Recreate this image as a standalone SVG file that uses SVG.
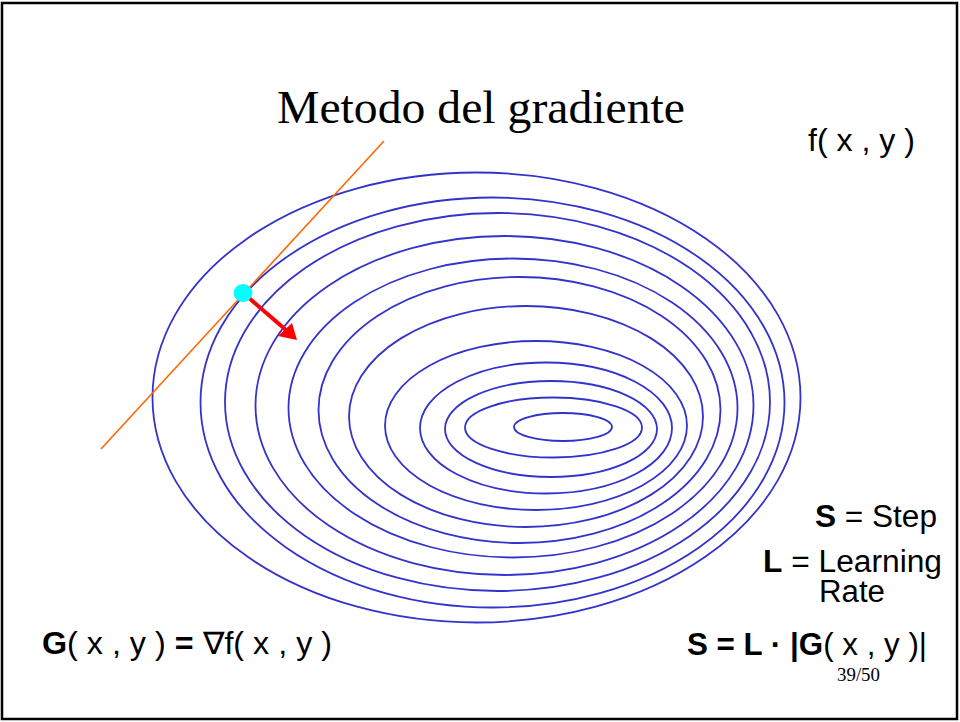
<svg xmlns="http://www.w3.org/2000/svg" width="960" height="722" viewBox="0 0 960 722">
<style>
.c{fill:none;stroke:#3333CC;stroke-width:1.8}
.t{font-family:"Liberation Sans",Arial,sans-serif;font-size:31px;fill:#000}
.b{font-weight:bold}
.s{font-family:"Liberation Serif","Times New Roman",serif;fill:#000}
</style>
<rect x="2" y="3" width="955" height="716" fill="#fff" stroke="#000" stroke-width="2.5"/>
<g id="contours">
<ellipse class="c" cx="563" cy="427" rx="49" ry="14"/>
<ellipse class="c" cx="553.5" cy="427.5" rx="88.5" ry="30"/>
<ellipse class="c" cx="551" cy="429" rx="106" ry="48"/>
<ellipse class="c" cx="546" cy="428" rx="126" ry="65.5"/>
<ellipse class="c" cx="536" cy="425.5" rx="151" ry="84.5"/>
<ellipse class="c" cx="526" cy="416.5" rx="177" ry="110.5"/>
<ellipse class="c" cx="519.5" cy="410" rx="201" ry="133"/>
<ellipse class="c" cx="513" cy="408" rx="224.5" ry="149.5"/>
<ellipse class="c" cx="504.5" cy="405.5" rx="249" ry="169.5"/>
<ellipse class="c" cx="497.5" cy="402" rx="272.5" ry="189"/>
<ellipse class="c" cx="492.5" cy="402.5" rx="292" ry="205"/>
<ellipse class="c" cx="476.5" cy="397.5" rx="324" ry="225"/>
</g>
<g id="connectors">
<line id="tangent" x1="384" y1="141" x2="101" y2="449" stroke="#FF6600" stroke-width="1.6"/>
<g id="gradient-arrow">
<line x1="249" y1="298" x2="286" y2="330" stroke="#FF0000" stroke-width="4"/>
<polygon points="297,340 278,336 292,323" fill="#FF0000"/>
</g>
</g>
<g id="point"><ellipse cx="243" cy="293" rx="9.5" ry="9" fill="#00FFFF"/></g>
<g id="title"><text class="s" x="277" y="123" font-size="47" textLength="408" lengthAdjust="spacingAndGlyphs">Metodo del gradiente</text></g>
<g id="fxy"><text class="t" x="808" y="151" textLength="107" lengthAdjust="spacingAndGlyphs">f( x , y )</text></g>
<g id="step"><text class="t" x="815" y="527" textLength="122" lengthAdjust="spacingAndGlyphs"><tspan class="b">S</tspan> = Step</text></g>
<g id="lr">
<text class="t" x="763" y="572" textLength="179" lengthAdjust="spacingAndGlyphs"><tspan class="b">L</tspan> = Learning</text>
<text class="t" x="819" y="602" textLength="66" lengthAdjust="spacingAndGlyphs">Rate</text>
</g>
<g id="formula-s"><text class="t" x="687" y="655" textLength="240" lengthAdjust="spacingAndGlyphs"><tspan class="b">S = L · |G</tspan>( x , y )|</text></g>
<g id="formula-g"><text class="t" x="42" y="654" textLength="290" lengthAdjust="spacingAndGlyphs"><tspan class="b">G</tspan>( x , y ) <tspan class="b">=</tspan>  ∇f( x , y )</text></g>
<g id="page"><text class="s" x="837" y="681" font-size="19" textLength="43" lengthAdjust="spacingAndGlyphs">39/50</text></g>
</svg>
